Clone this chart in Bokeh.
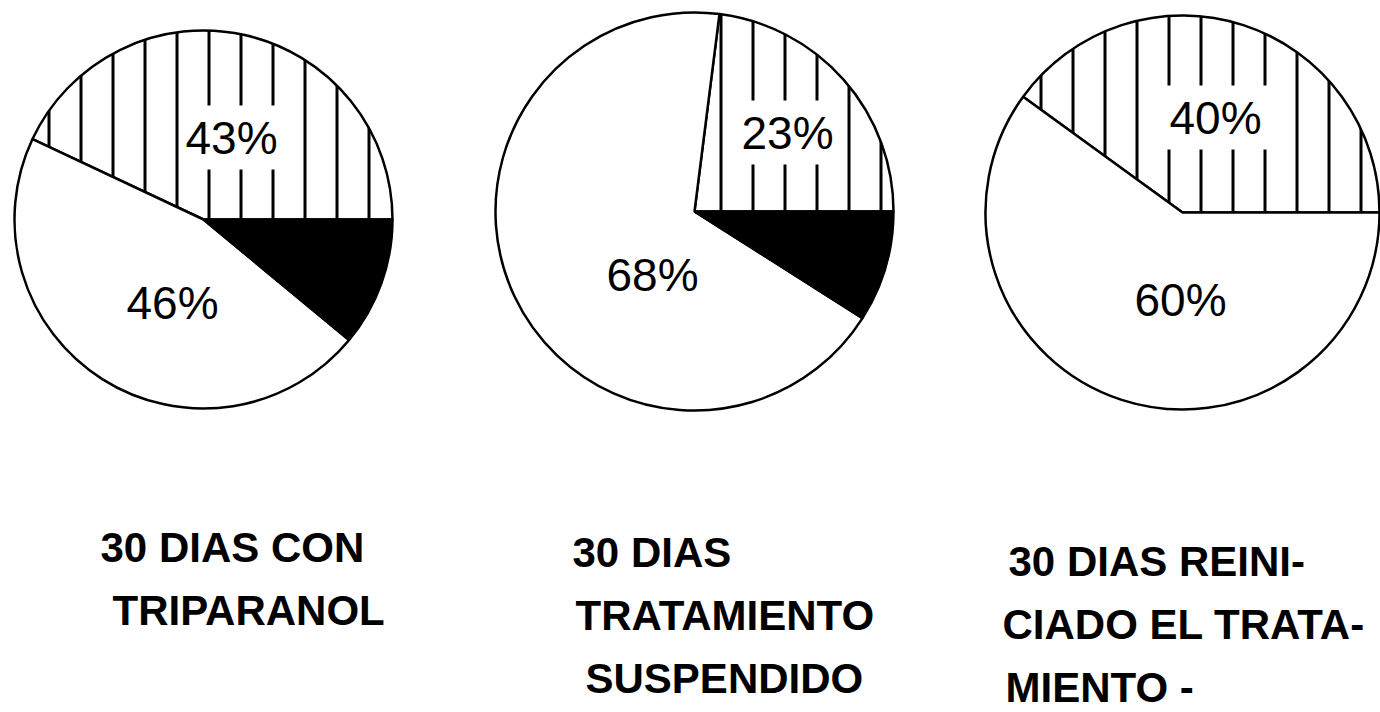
import math
from bokeh.plotting import figure
from bokeh.models import Range1d, ColumnDataSource
from bokeh.core.properties import value
from bokeh.embed import file_html
from bokeh.resources import INLINE

# ---- data ----
pie_titles = [
    ["30 DIAS CON", "TRIPARANOL"],
    ["30 DIAS", "TRATAMIENTO", "SUSPENDIDO"],
    ["30 DIAS  REINI-", "CIADO EL TRATA-", "MIENTO -"],
]
hatched_pct = [43, 23, 40]
white_pct = [46, 68, 60]
black_pct = [11, 9, 0]

# ---- layout (image pixel coordinates, y measured from top) ----
W, H = 1380, 712
centers_x = [203, 694, 1182]
centers_y = [219, 211, 212]
radii = [189, 199, 197]
hatch_label_pos = [(231, 137), (787, 132), (1215, 117)]
white_label_pos = [(172, 302), (652, 274), (1180, 299)]
title_line_x = [[100, 112], [572, 575, 585], [1008, 1002, 1005]]
title_first_y = [547, 552, 561]
title_line_gap = 63

def Y(y):
    return H - y

p = figure(width=W, height=H, output_backend="svg", toolbar_location=None,
           x_range=Range1d(0, W), y_range=Range1d(0, H),
           min_border=0)
p.axis.visible = False
p.grid.visible = False
p.outline_line_color = None
p.background_fill_color = "white"

wx, wy, wr, ws, we, wf, wh = [], [], [], [], [], [], []
for i in range(3):
    parts = [(hatched_pct[i], "white", "|"), (white_pct[i], "white", " "),
             (black_pct[i], "black", " ")]
    total = sum(v for v, _, _ in parts)
    start = 0.0
    for v, col, hp in parts:
        if v <= 0:
            continue
        end = start + 2 * math.pi * v / total
        wx.append(centers_x[i]); wy.append(Y(centers_y[i])); wr.append(radii[i])
        ws.append(start); we.append(end); wf.append(col); wh.append(hp)
        start = end

src = ColumnDataSource(dict(x=wx, y=wy, r=wr, s=ws, e=we, f=wf, h=wh))
p.wedge(x="x", y="y", radius="r", start_angle="s", end_angle="e",
        fill_color="f", hatch_pattern="h", hatch_color="black",
        hatch_scale=32, hatch_weight=3, line_color="black", line_width=2.5,
        source=src)

# percentage labels
lx = [pt[0] for pt in hatch_label_pos] + [pt[0] for pt in white_label_pos]
ly = [Y(pt[1]) for pt in hatch_label_pos] + [Y(pt[1]) for pt in white_label_pos]
lt = [f"{v}%" for v in hatched_pct] + [f"{v}%" for v in white_pct]
p.text(x=lx, y=ly, text=lt, text_align="center", text_baseline="middle",
       text_font=value("Liberation Sans"), text_font_size="46px",
       text_color="black", background_fill_color="white", padding=6)

# titles, one text per line
tx, ty, tt = [], [], []
for i, lines in enumerate(pie_titles):
    for j, line in enumerate(lines):
        tx.append(title_line_x[i][j])
        ty.append(Y(title_first_y[i] + j * title_line_gap))
        tt.append(line)
p.text(x=tx, y=ty, text=tt, text_align="left", text_baseline="middle",
       text_font=value("Liberation Sans"), text_font_size="42px",
       text_font_style="bold", text_color="black")

open("out.html", "w").write(file_html(p, INLINE))
